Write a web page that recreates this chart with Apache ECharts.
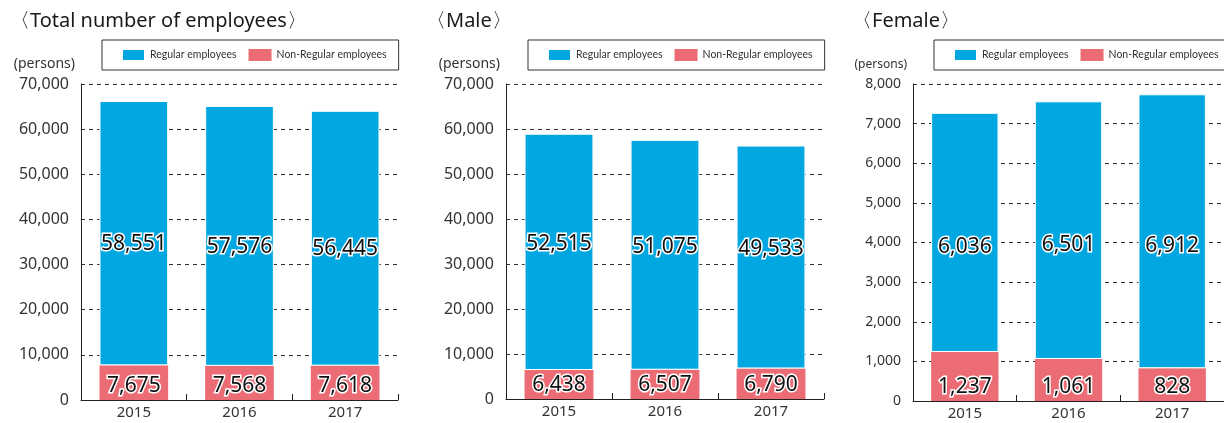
<!DOCTYPE html>
<html>
<head>
<meta charset="utf-8">
<script src="https://cdn.jsdelivr.net/npm/echarts@6/dist/echarts.min.js"></script>
<style>
  html, body { margin: 0; padding: 0; background: #fff; }
  #main { width: 1224px; height: 423px; }
</style>
</head>
<body>
<div id="main"></div>
<script>
// data
var years = ['2015', '2016', '2017']
var totalRegular = [58551, 57576, 56445]
var totalNonRegular = [7675, 7568, 7618]
var maleRegular = [52515, 51075, 49533]
var maleNonRegular = [6438, 6507, 6790]
var femaleRegular = [6036, 6501, 6912]
var femaleNonRegular = [1237, 1061, 828]
var titles = ['〈Total number of employees〉', '〈Male〉', '〈Female〉']
var legendNames = ['Regular employees', 'Non-Regular employees']

var BLUE = '#00a7e1'
var PINK = '#ec6c75'
var FONT = 'Noto Sans'

// layout of each panel
var panels = [
  { left: 81, width: 317, top: 84, bottom: 23, max: 70000, interval: 10000, legendLeft: 102, titleLeft: 5, tickSize: 16, nameSize: 14, offset: 11,
    regular: totalRegular, nonRegular: totalNonRegular },
  { left: 506, width: 318, top: 84, bottom: 24, max: 70000, interval: 10000, legendLeft: 528, titleLeft: 421, tickSize: 16, nameSize: 14, offset: -8,
    regular: maleRegular, nonRegular: maleNonRegular },
  { left: 913, width: 318, top: 84, bottom: 22, max: 8000, interval: 1000, legendLeft: 934, titleLeft: 847, tickSize: 14, nameSize: 12, offset: 15,
    regular: femaleRegular, nonRegular: femaleNonRegular }
]

var chart = echarts.init(document.getElementById('main'))

var option = {
  backgroundColor: '#fff',
  animation: false,
  title: [],
  legend: [],
  grid: [],
  xAxis: [],
  yAxis: [],
  series: []
}

panels.forEach(function (p, i) {
  option.title.push({
    text: titles[i],
    left: p.titleLeft,
    top: 6,
    textStyle: { fontFamily: FONT, fontSize: 20, fontWeight: 'normal', color: '#1a1a1a' }
  })
  option.legend.push({
    data: legendNames,
    left: p.legendLeft,
    top: 40,
    width: 400,
    orient: 'horizontal',
    itemWidth: 23,
    itemHeight: 12,
    itemGap: 12,
    padding: [8, 12, 8, 19],
    borderColor: '#333',
    borderWidth: 1,
    icon: 'rect',
    selectedMode: false,
    textStyle: { fontFamily: 'Lato', fontSize: 10.5, color: '#333' }
  })
  option.grid.push({ left: p.left, width: p.width, top: p.top, bottom: p.bottom, containLabel: false })
  option.xAxis.push({
    type: 'category',
    gridIndex: i,
    data: years,
    axisLine: { lineStyle: { color: '#222', width: 1 } },
    axisTick: { show: true, inside: true, length: 6, alignWithLabel: false, lineStyle: { color: '#222' } },
    axisLabel: { fontFamily: FONT, fontSize: 15, color: '#333', margin: 5 }
  })
  option.yAxis.push({
    type: 'value',
    gridIndex: i,
    min: 0,
    max: p.max,
    interval: p.interval,
    name: '(persons)',
    nameLocation: 'end',
    nameGap: 13,
    nameTextStyle: { fontFamily: FONT, fontSize: p.nameSize, color: '#333', align: 'right', padding: [0, 6, 0, 0] },
    axisLine: { show: true, lineStyle: { color: '#222', width: 1 } },
    axisTick: { show: false },
    axisLabel: {
      fontFamily: FONT, fontSize: p.tickSize, color: '#333', margin: 12,
      formatter: function (v) { return v.toLocaleString('en-US') }
    },
    splitLine: { show: true, lineStyle: { color: '#333', type: [4, 4], width: 1 } }
  })
  var labelStyle = {
    show: true,
    fontFamily: FONT,
    fontSize: 21,
    color: '#111',
    textBorderColor: '#fff',
    textBorderWidth: 3,
    formatter: function (d) { return d.value.toLocaleString('en-US') }
  }
  option.series.push({
    name: legendNames[1],
    type: 'bar',
    stack: 's' + i,
    xAxisIndex: i,
    yAxisIndex: i,
    barCategoryGap: '35%',
    itemStyle: { color: PINK },
    label: Object.assign({}, labelStyle, { position: 'insideBottom', distance: 3 }),
    data: p.nonRegular
  })
  option.series.push({
    name: legendNames[0],
    type: 'bar',
    stack: 's' + i,
    xAxisIndex: i,
    yAxisIndex: i,
    barCategoryGap: '35%',
    itemStyle: { color: BLUE, borderColor: '#fff', borderWidth: 1 },
    label: Object.assign({}, labelStyle, { position: 'inside', offset: [0, p.offset] }),
    data: p.regular
  })
})

chart.setOption(option)
window.addEventListener('resize', function () {
  chart.resize()
})
</script>
</body>
</html>
